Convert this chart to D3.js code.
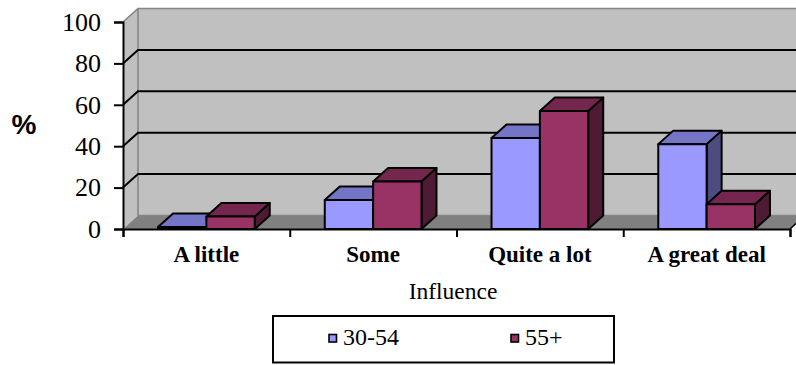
<!DOCTYPE html>
<html>
<head>
<meta charset="utf-8">
<script src="https://cdn.jsdelivr.net/npm/d3@7"></script>
<style>
  html, body { margin: 0; padding: 0; background: #fff; }
  svg { display: block; }
</style>
</head>
<body>
<svg id="chart" width="796" height="365"></svg>
<script>
// Share of respondents (%) by perceived influence, per age group
const categories = ["A little", "Some", "Quite a lot", "A great deal"];
const seriesNames = ["30-54", "55+"];
const values3054 = [1, 14, 44, 41];
const values55 = [6, 23, 57, 12];
const yTicks = [0, 20, 40, 60, 80, 100];

const seriesValues = [values3054, values55];
const palette = {
  "30-54": { front: "#9999FF", top: "#7575C8", side: "#4C4C80" },
  "55+":   { front: "#993366", top: "#74264E", side: "#4E1A34" }
};

const svg = d3.select("#chart");
const x0 = 123, x1 = 790, yBase = 229, yTop = 22;
const dx = 15, dy = -13.5;          // depth offset of the back plane

const x = d3.scaleBand().domain(categories).range([x0, x1]).padding(0);
const xs = d3.scaleBand().domain(seriesNames)
  .range([x.bandwidth() * 0.21, x.bandwidth() * 0.79]).padding(0);
const y = d3.scaleLinear().domain([0, 100]).range([yBase, yTop]);
const xIdx = d3.scaleLinear().domain([0, categories.length]).range([x0, x1]);

const poly = pts => pts.map(p => p.join(",")).join(" ");

// Back wall
svg.append("polygon")
  .attr("points", poly([[x0 + dx, y(100) + dy], [x1 + dx + 20, y(100) + dy],
                         [x1 + dx + 20, y(0) + dy], [x0 + dx, y(0) + dy]]))
  .attr("fill", "#C0C0C0");
// Side wall
svg.append("polygon")
  .attr("points", poly([[x0, y(100)], [x0 + dx, y(100) + dy],
                         [x0 + dx, y(0) + dy], [x0, y(0)]]))
  .attr("fill", "#C0C0C0");
// Floor
svg.append("polygon")
  .attr("points", poly([[x0, y(0)], [x0 + dx, y(0) + dy],
                         [x1 + dx, y(0) + dy], [x1, y(0)]]))
  .attr("fill", "#808080");

// Wall outlines
svg.append("path")
  .attr("d", `M${x0},${y(100)} L${x0 + dx},${y(100) + dy} L${x1 + dx + 20},${y(100) + dy}
              M${x0 + dx},${y(100) + dy} L${x0 + dx},${y(0) + dy} L${x1 + dx + 20},${y(0) + dy}`)
  .attr("fill", "none").attr("stroke", "#858585").attr("stroke-width", 1.6);

// Gridlines on the back wall and side wall
const grid = yTicks.filter(t => t > 0 && t < 100);
svg.append("g").selectAll("path").data(grid).join("path")
  .attr("d", t => `M${x0},${y(t)} L${x0 + dx},${y(t) + dy} L${x1 + dx + 20},${y(t) + dy}`)
  .attr("fill", "none").attr("stroke", "#000").attr("stroke-width", 2);

// Floor right edge
svg.append("line")
  .attr("x1", x1).attr("y1", y(0)).attr("x2", x1 + dx).attr("y2", y(0) + dy)
  .attr("stroke", "#000").attr("stroke-width", 1.5);

// Bars as 3-D boxes
const bars = [];
categories.forEach((c, i) => {
  seriesNames.forEach((s, j) => {
    bars.push({ cat: c, series: s, value: seriesValues[j][i] });
  });
});

const barG = svg.append("g");
bars.forEach(b => {
  const left = x(b.cat) + xs(b.series);
  const right = left + xs.bandwidth();
  const top = y(b.value), bot = y(0);
  const col = palette[b.series];
  const g = barG.append("g")
    .attr("stroke", "#000").attr("stroke-width", 2).attr("stroke-linejoin", "round");
  g.append("polygon")
    .attr("points", poly([[right, bot], [right + dx, bot + dy], [right + dx, top + dy], [right, top]]))
    .attr("fill", col.side);
  g.append("polygon")
    .attr("points", poly([[left, top], [left + dx, top + dy], [right + dx, top + dy], [right, top]]))
    .attr("fill", col.top);
  g.append("rect")
    .attr("x", left).attr("y", top)
    .attr("width", right - left).attr("height", Math.max(0, bot - top))
    .attr("fill", col.front);
});

// Value axis
const yAxis = svg.append("g")
  .attr("transform", `translate(${x0},0)`)
  .call(d3.axisLeft(y).tickValues(yTicks).tickSize(9).tickPadding(13));
yAxis.select(".domain").attr("stroke", "#000").attr("stroke-width", 2);
yAxis.selectAll(".tick line").attr("stroke", "#000").attr("stroke-width", 2);
yAxis.selectAll(".tick text")
  .attr("font-family", "'Liberation Serif', 'Times New Roman', serif")
  .attr("font-size", 26).attr("fill", "#000");

// Category axis: boundary ticks
const xAxis = svg.append("g")
  .attr("transform", `translate(0,${yBase})`)
  .call(d3.axisBottom(xIdx).tickValues(d3.range(categories.length + 1))
    .tickSize(8).tickFormat(""));
xAxis.select(".domain").attr("stroke", "#000").attr("stroke-width", 2);
xAxis.selectAll(".tick line").attr("stroke", "#000").attr("stroke-width", 2);

// Category labels
svg.append("g").selectAll("text").data(categories).join("text")
  .attr("x", d => x(d) + x.bandwidth() / 2)
  .attr("y", 262)
  .attr("text-anchor", "middle")
  .attr("font-family", "'Liberation Serif', 'Times New Roman', serif")
  .attr("font-weight", "bold").attr("font-size", 23)
  .text(d => d);

// Axis titles
svg.append("text")
  .attr("x", 453).attr("y", 298.5).attr("text-anchor", "middle")
  .attr("font-family", "'Liberation Serif', 'Times New Roman', serif")
  .attr("font-size", 23.5)
  .text("Influence");

svg.append("text")
  .attr("x", 24).attr("y", 134).attr("text-anchor", "middle")
  .attr("font-family", "'Liberation Sans', Arial, sans-serif")
  .attr("font-weight", "bold").attr("font-size", 28)
  .text("%");

// Legend
const legend = svg.append("g");
legend.append("rect")
  .attr("x", 273).attr("y", 316).attr("width", 341).attr("height", 46.5)
  .attr("fill", "#fff").attr("stroke", "#000").attr("stroke-width", 2);
const legendX = [329, 511];
seriesNames.forEach((s, i) => {
  legend.append("rect")
    .attr("x", legendX[i]).attr("y", 334.5).attr("width", 7.5).attr("height", 7.5)
    .attr("fill", palette[s].front).attr("stroke", "#000").attr("stroke-width", 1.6);
  legend.append("text")
    .attr("x", legendX[i] + 14).attr("y", 344.5)
    .attr("font-family", "'Liberation Serif', 'Times New Roman', serif")
    .attr("font-size", 24)
    .text(s);
});
</script>
</body>
</html>
